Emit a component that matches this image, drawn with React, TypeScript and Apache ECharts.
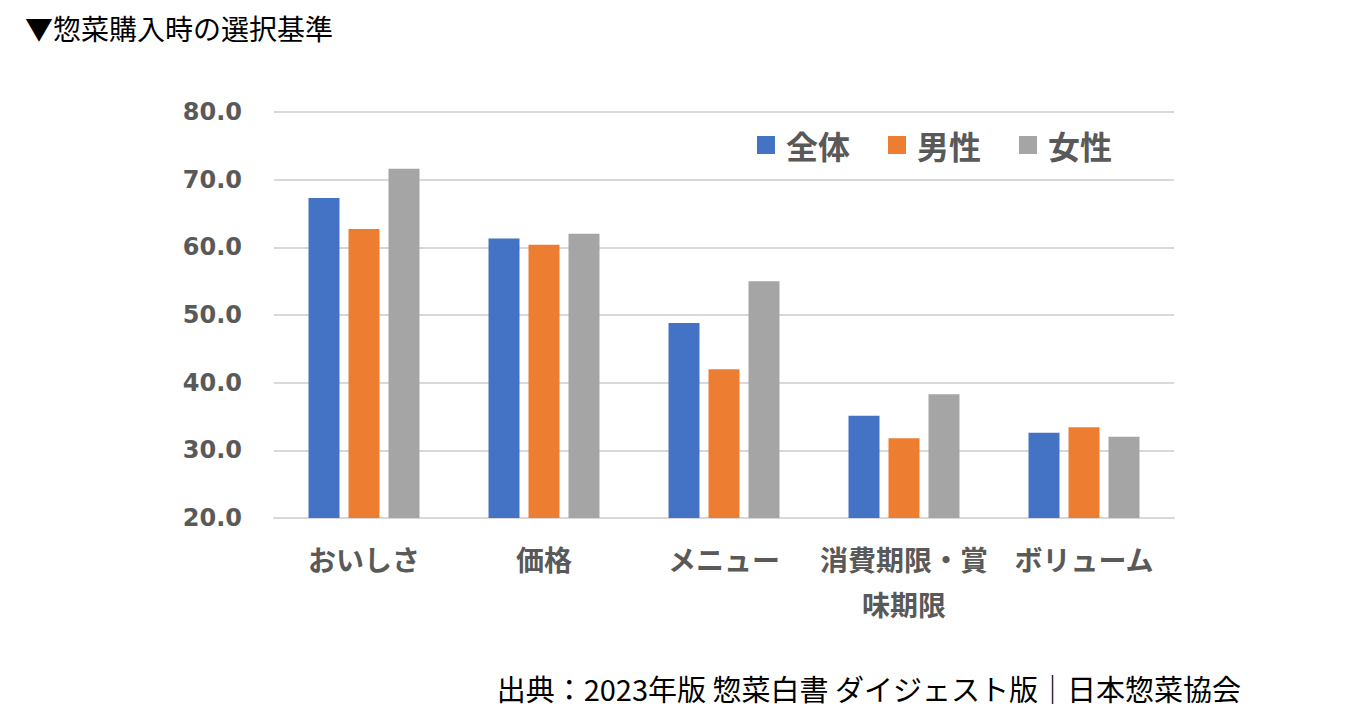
import React, { useEffect, useRef } from "react";
import * as echarts from "echarts";

const categories = ["おいしさ", "価格", "メニュー", "消費期限・賞\n味期限", "ボリューム"];
const seriesNames = ["全体", "男性", "女性"];
const totalValues = [67.3, 61.3, 48.8, 35.1, 32.6];
const maleValues = [62.7, 60.4, 42.0, 31.8, 33.4];
const femaleValues = [71.6, 62.0, 55.0, 38.3, 32.0];
const colors = ["#4472C4", "#ED7D31", "#A5A5A5"];
const titleText = "▼惣菜購入時の選択基準";
const sourceText = "出典：2023年版 惣菜白書 ダイジェスト版｜日本惣菜協会";

const JP = '"Noto Sans CJK JP", "Noto Sans", sans-serif';

export default function App() {
  const ref = useRef<HTMLDivElement>(null);
  useEffect(() => {
    if (!ref.current) return;
    const chart = echarts.init(ref.current, null, { renderer: "svg" });
    const values = [totalValues, maleValues, femaleValues];
    chart.setOption({
      animation: false,
      backgroundColor: "#ffffff",
      title: [
        {
          text: titleText,
          left: 20,
          top: 9,
          textStyle: { fontFamily: JP, fontSize: 28, fontWeight: "normal", color: "#000000" },
        },
        {
          text: sourceText,
          right: 104,
          top: 668,
          textStyle: { fontFamily: JP, fontSize: 29, fontWeight: "normal", color: "#000000" },
        },
      ],
      legend: {
        data: seriesNames,
        left: 752,
        top: 124,
        itemWidth: 18,
        itemHeight: 18,
        itemGap: 38,
        icon: "rect",
        textStyle: {
          fontFamily: JP,
          fontSize: 32,
          fontWeight: "bold",
          color: "#595959",
          padding: [0, 0, 0, 6],
        },
      },
      grid: { left: 274, right: 176, top: 112, bottom: 204, containLabel: false },
      xAxis: {
        type: "category",
        data: categories,
        axisLine: { show: true, lineStyle: { color: "#d9d9d9", width: 2 } },
        axisTick: { show: false },
        axisLabel: {
          interval: 0,
          margin: 18,
          fontFamily: JP,
          fontSize: 28,
          fontWeight: "bold",
          color: "#595959",
          lineHeight: 45,
        },
      },
      yAxis: {
        type: "value",
        min: 20,
        max: 80,
        interval: 10,
        axisLine: { show: false },
        axisTick: { show: false },
        splitLine: { lineStyle: { color: "#d9d9d9", width: 2 } },
        axisLabel: {
          margin: 32,
          fontFamily: '"DejaVu Sans", sans-serif',
          fontSize: 24,
          fontWeight: "bold",
          color: "#595959",
          formatter: (v: number) => v.toFixed(1),
        },
      },
      series: seriesNames.map((name, i) => ({
        name,
        type: "bar",
        data: values[i],
        barWidth: 31,
        barGap: "29%",
        itemStyle: { color: colors[i] },
      })),
    });
    return () => chart.dispose();
  }, []);
  return (
    <div
      ref={ref}
      style={{ position: "absolute", left: 0, top: 0, width: 1350, height: 722 }}
    />
  );
}
